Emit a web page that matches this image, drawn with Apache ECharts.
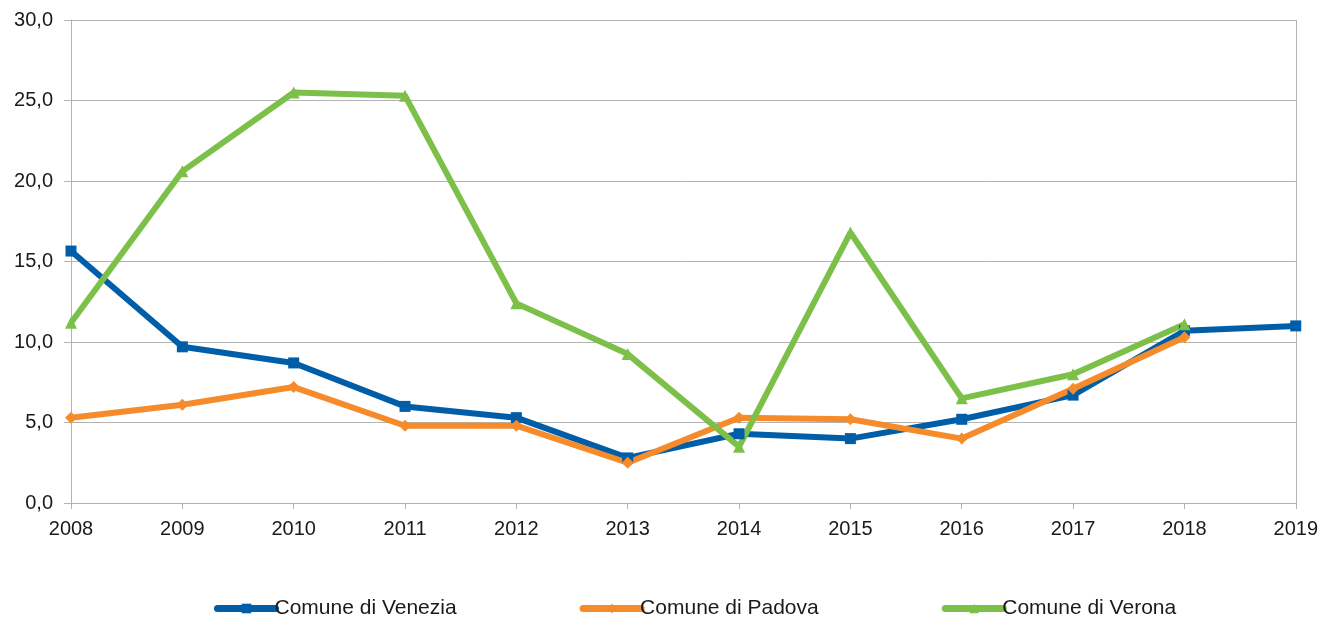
<!DOCTYPE html>
<html>
<head>
<meta charset="utf-8">
<script src="https://cdn.jsdelivr.net/npm/echarts@6/dist/echarts.min.js"></script>
<style>
  html, body { margin: 0; padding: 0; background: #fff; }
  #chart { width: 1321px; height: 617px; }
</style>
</head>
<body>
<div id="chart"></div>
<script>
// Years on the horizontal axis
const years = ['2008', '2009', '2010', '2011', '2012', '2013', '2014', '2015', '2016', '2017', '2018', '2019'];

// Values per municipality (null = no value for that year)
const venezia = [15.65, 9.7, 8.7, 6.0, 5.3, 2.8, 4.3, 4.0, 5.2, 6.7, 10.7, 11.0];
const padova  = [5.3, 6.1, 7.2, 4.8, 4.8, 2.5, 5.3, 5.2, 4.0, 7.1, 10.3, null];
const verona  = [11.2, 20.6, 25.5, 25.3, 12.4, 9.25, 3.5, 16.8, 6.5, 8.0, 11.1, null];

const seriesNames = ['Comune di Venezia', 'Comune di Padova', 'Comune di Verona'];
const colors = ['#005ea8', '#f68b2b', '#7cc04a'];

const fontFamily = '"Liberation Sans", Arial, sans-serif';

function lineSeries(name, data, color, symbol, size) {
  return {
    name: name,
    type: 'line',
    data: data,
    symbol: symbol,
    symbolSize: size,
    showAllSymbol: true,
    lineStyle: { width: 6, color: color },
    itemStyle: { color: color },
    emphasis: { disabled: true },
    animation: false
  };
}

const chart = echarts.init(document.getElementById('chart'));
chart.setOption({
  backgroundColor: '#ffffff',
  grid: { left: 71, right: 25, top: 20, bottom: 114, containLabel: false },
  legend: {
    left: 214,
    top: 598,
    padding: 0,
    itemWidth: 58,
    itemHeight: 12,
    itemGap: 123,
    lineStyle: { width: 7, cap: 'round' },
    textStyle: { fontFamily: fontFamily, fontSize: 21, color: '#1a1a1a', padding: [0, 0, 0, -6] },
    data: seriesNames
  },
  xAxis: {
    type: 'category',
    data: years,
    boundaryGap: false,
    axisLine: { lineStyle: { color: '#b3b3b3', width: 1 } },
    axisTick: { show: true, length: 6, lineStyle: { color: '#b3b3b3' } },
    axisLabel: { fontFamily: fontFamily, fontSize: 20, color: '#1a1a1a', margin: 16 },
    // only the right-hand border of the plot area is drawn vertically
    splitLine: {
      show: true,
      interval: (index) => index === years.length - 1,
      lineStyle: { color: '#b3b3b3', width: 1 }
    }
  },
  yAxis: {
    type: 'value',
    min: 0,
    max: 30,
    interval: 5,
    axisLine: { show: true, lineStyle: { color: '#b3b3b3', width: 1 } },
    axisTick: { show: true, length: 7, lineStyle: { color: '#b3b3b3' } },
    axisLabel: {
      fontFamily: fontFamily, fontSize: 20, color: '#1a1a1a', margin: 18,
      formatter: v => v.toFixed(1).replace('.', ',')
    },
    splitLine: { show: true, lineStyle: { color: '#b3b3b3', width: 1 } }
  },
  series: [
    lineSeries(seriesNames[0], venezia, colors[0], 'rect', 11),
    lineSeries(seriesNames[1], padova, colors[1], 'diamond', 12),
    lineSeries(seriesNames[2], verona, colors[2], 'triangle', 12)
  ]
});
</script>
</body>
</html>
